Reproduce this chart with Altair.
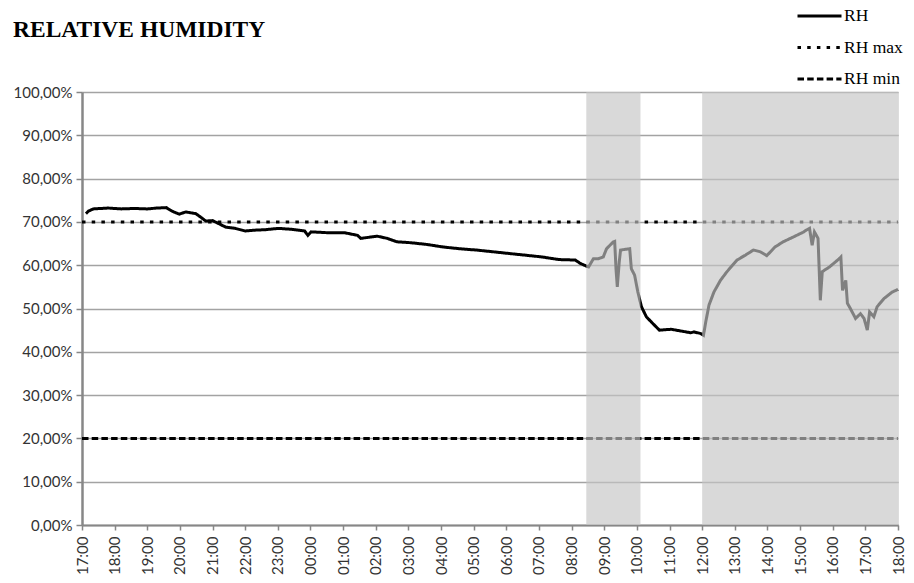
import altair as alt
import pandas as pd

# ---- data (hours after 17:00, RH in %) ----
rh_hours = [0.12, 0.2, 0.35, 0.8, 1.2, 1.6, 2.0, 2.3, 2.58, 2.78, 2.98, 3.18, 3.49, 3.69, 3.79,
            4.0, 4.19, 4.40, 4.70, 5.00, 5.31, 5.61, 6.01, 6.42, 6.82, 6.92, 7.02, 7.53, 8.04,
            8.44, 8.54, 9.05, 9.35, 9.65, 10.06, 10.56, 11.07, 11.57, 12.08, 12.59, 13.09,
            13.60, 14.10, 14.61, 15.11, 15.27, 15.45, 15.52, 15.67, 15.82, 15.97, 16.07, 16.28,
            16.32, 16.36, 16.40, 16.46, 16.50, 16.78, 16.83, 16.93, 17.03, 17.14, 17.29, 17.44,
            17.69, 18.05, 18.35, 18.65, 18.75, 18.96, 19.04, 19.11, 19.21, 19.36, 19.56, 19.76,
            20.07, 20.32, 20.57, 20.78, 20.98, 21.23, 21.48, 21.79, 22.09, 22.19, 22.29, 22.37,
            22.44, 22.55, 22.62, 22.68, 22.90, 23.20, 23.25, 23.30, 23.40, 23.45, 23.54, 23.70,
            23.85, 23.96, 24.06, 24.13, 24.26, 24.36, 24.57, 24.82, 25.0]
rh_values = [71.9, 72.5, 73.0, 73.2, 73.0, 73.1, 73.0, 73.2, 73.3, 72.4, 71.8, 72.3, 71.9, 70.8, 70.2,
             70.3, 69.6, 68.8, 68.5, 67.9, 68.1, 68.2, 68.5, 68.3, 67.9, 66.9, 67.7, 67.5, 67.5,
             66.9, 66.2, 66.7, 66.2, 65.4, 65.2, 64.8, 64.2, 63.8, 63.5, 63.1, 62.7,
             62.3, 61.9, 61.3, 61.2, 60.4, 59.8, 59.6, 61.5, 61.5, 61.9, 63.8, 65.4,
             65.5, 59.2, 55.0, 60.8, 63.5, 63.8, 59.2, 57.7, 53.8, 50.4, 48.1, 46.9,
             45.0, 45.2, 44.8, 44.4, 44.6, 44.2, 43.8, 46.9, 50.8, 53.8, 56.5, 58.5,
             61.2, 62.3, 63.5, 63.1, 62.2, 64.2, 65.4, 66.5, 67.6, 68.1, 68.5, 64.6,
             67.7, 66.2, 51.9, 58.5, 59.6, 61.5, 61.9, 54.2, 56.5, 51.2, 50.0, 47.7,
             48.8, 47.7, 45.0, 49.2, 48.1, 50.4, 52.3, 53.8, 54.4]

limit_hours = [0, 25]
rh_max = [70, 70]
rh_min = [20, 20]

series_names = ["RH", "RH max", "RH min"]

shade_start = [15.45, 19.0]
shade_end = [17.11, 25.0]

y_ticks = list(range(0, 101, 10))
x_ticks = list(range(0, 26))

# ---- tables ----
lines_df = pd.concat([
    pd.DataFrame({"h": rh_hours, "v": rh_values, "s": series_names[0]}),
    pd.DataFrame({"h": limit_hours, "v": rh_max, "s": series_names[1]}),
    pd.DataFrame({"h": limit_hours, "v": rh_min, "s": series_names[2]}),
], ignore_index=True)
shade_df = pd.DataFrame({"a": shade_start, "b": shade_end})

AX = "#878787"
LBL = "#333333"
LABEL_FONT = "Lato"

x_scale = alt.Scale(domain=[0, 25], nice=False, zero=False)
y_scale = alt.Scale(domain=[0, 100], nice=False)

x_axis = alt.Axis(values=x_ticks, title=None, grid=False, labelAngle=-90,
                  labelOverlap=False, tickCount=60,
                  labelExpr="(((datum.value + 17) % 24) < 10 ? '0' : '') + ((datum.value + 17) % 24) + ':00'",
                  labelFont=LABEL_FONT, labelFontSize=15, labelColor=LBL,
                  tickSize=5, tickColor=AX, tickWidth=1.5, labelPadding=6,
                  domainColor=AX, domainWidth=2.2)
y_axis = alt.Axis(values=y_ticks, title=None, labelOverlap=False, tickCount=30,
                  labelExpr="replace(format(datum.value / 100, '.2%'), '.', ',')",
                  labelFont=LABEL_FONT, labelFontSize=15, labelColor=LBL,
                  tickSize=6, tickColor=AX, tickWidth=1.5, labelPadding=4,
                  domainColor=AX, domainWidth=2.5,
                  gridColor="#a3a3a3", gridWidth=1.3)

lines = alt.Chart(lines_df).mark_line(color="black", strokeWidth=3).encode(
    x=alt.X("h:Q", scale=x_scale, axis=x_axis),
    y=alt.Y("v:Q", scale=y_scale, axis=y_axis),
    strokeDash=alt.StrokeDash("s:N",
        scale=alt.Scale(domain=series_names, range=[[1, 0], [3.5, 6.2], [6.5, 3.2]]),
        legend=alt.Legend(title=None, orient="none", legendX=714, legendY=-91,
                          symbolType="stroke", symbolSize=1936, symbolStrokeWidth=3,
                          symbolStrokeColor="black", labelFont="Liberation Serif",
                          labelFontSize=17.5, labelColor="black", labelOffset=1,
                          clipHeight=30, rowPadding=1.5, padding=0)),
    detail="s:N",
)

shade = alt.Chart(shade_df).mark_rect(color="#c4c4c4", opacity=0.65).encode(
    x=alt.X("a:Q", scale=x_scale, axis=x_axis), x2="b:Q",
    y=alt.datum(0, scale=y_scale, axis=y_axis), y2=alt.datum(100)
)

chart = alt.layer(lines, shade).properties(
    width=816, height=433,
    autosize=alt.AutoSizeParams(type="none"),
    padding={"left": 74, "top": 84, "right": 8, "bottom": 50},
    title=alt.TitleParams("RELATIVE HUMIDITY", anchor="start", frame="group",
                          font="Liberation Serif", fontSize=23.5, fontWeight="bold",
                          color="black", baseline="alphabetic", dx=-69, dy=63),
).configure_view(stroke=None).configure(background="white")

chart.save("out.html", embed_options={"renderer": "svg", "actions": False})
